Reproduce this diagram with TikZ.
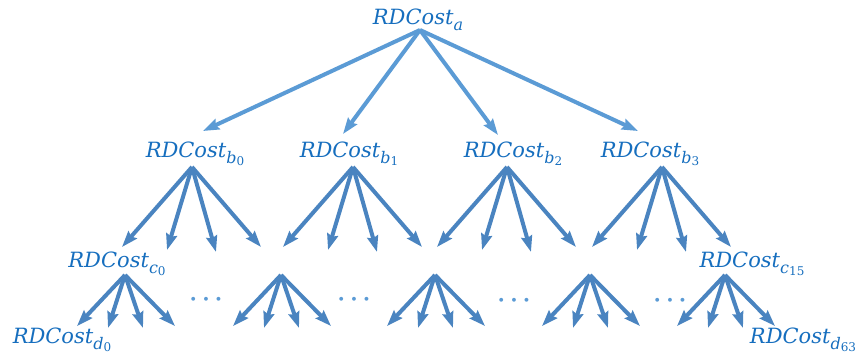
\documentclass[tikz,border=0pt]{standalone}
\usepackage{fontspec}
\setmainfont{DejaVu Serif}
\usetikzlibrary{arrows.meta}
\definecolor{labelblue}{RGB}{22,110,190}
\definecolor{toparrow}{RGB}{91,155,213}
\definecolor{lowarrow}{RGB}{74,132,192}
% cost label: RDCost with a subscript letter and an optional index below it
\newcommand\costlabel[2]{\textit{RDCost}\raisebox{-0.3em}{\fontsize{16}{19}\selectfont\textit{#1}\raisebox{-0.15em}{\fontsize{12}{14}\selectfont #2}}}
\tikzset{
  cost/.style={anchor=base, inner sep=0pt, text=labelblue, font=\fontsize{21}{25}\selectfont},
  edge/.style={line width=4pt, -{Stealth[length=16pt,width=11pt,inset=2pt]}},
  upper/.style={edge, draw=toparrow, fill=toparrow},
  lower/.style={edge, draw=lowarrow, fill=lowarrow},
  dots/.style={inner sep=0pt, text=toparrow, font=\fontsize{30}{34}\selectfont\boldmath}
}
\begin{document}
\begin{tikzpicture}[x=1pt,y=-1pt]
\useasboundingbox (0,0) rectangle (857,356);

% labels
\node[cost] (a)   at (418,24)  {\costlabel{a}{}};
\node[cost] (b0)  at (195,157) {\costlabel{b}{0}};
\node[cost] (b1)  at (349,157) {\costlabel{b}{1}};
\node[cost] (b2)  at (513,157) {\costlabel{b}{2}};
\node[cost] (b3)  at (650,157) {\costlabel{b}{3}};
\node[cost] (c0)  at (117,267) {\costlabel{c}{0}};
\node[cost] (c15) at (752,267) {\costlabel{c}{15}};
\node[cost] (d0)  at (62,343)  {\costlabel{d}{0}};
\node[cost] (d63) at (803,343) {\costlabel{d}{63}};

% root fan
\coordinate (ra) at (420,30);
\coordinate (ta0) at (203,131);
\coordinate (ta1) at (343,134);
\coordinate (ta2) at (498,135);
\coordinate (ta3) at (638,131);
\foreach \t in {ta0,ta1,ta2,ta3} \draw[upper] (ra) -- (\t);

% second level fans
\foreach \n/\x in {0/192,1/353,2/507,3/662}{
  \coordinate (rb\n) at (\x,167);
  \foreach \k/\dx/\ty in {0/-70/247,1/-25/250,2/24/252,3/69/247}{
    \coordinate (tb\n\k) at (\x+\dx,\ty);
    \draw[lower] (rb\n) -- (tb\n\k);
  }
}

% third level fans
\foreach \n/\x in {0/125,1/281,2/435,3/590,4/725}{
  \coordinate (rc\n) at (\x,275);
  \foreach \k/\dx/\ty in {0/-48/326,1/-17/328,2/18/328,3/50/326}{
    \coordinate (tc\n\k) at (\x+\dx,\ty);
    \draw[lower] (rc\n) -- (tc\n\k);
  }
}

% ellipses between the fans
\node[dots] (e0) at (206,300) {$\cdots$};
\node[dots] (e1) at (354,300) {$\cdots$};
\node[dots] (e2) at (514,301) {$\cdots$};
\node[dots] (e3) at (670,301) {$\cdots$};
\end{tikzpicture}
\end{document}
